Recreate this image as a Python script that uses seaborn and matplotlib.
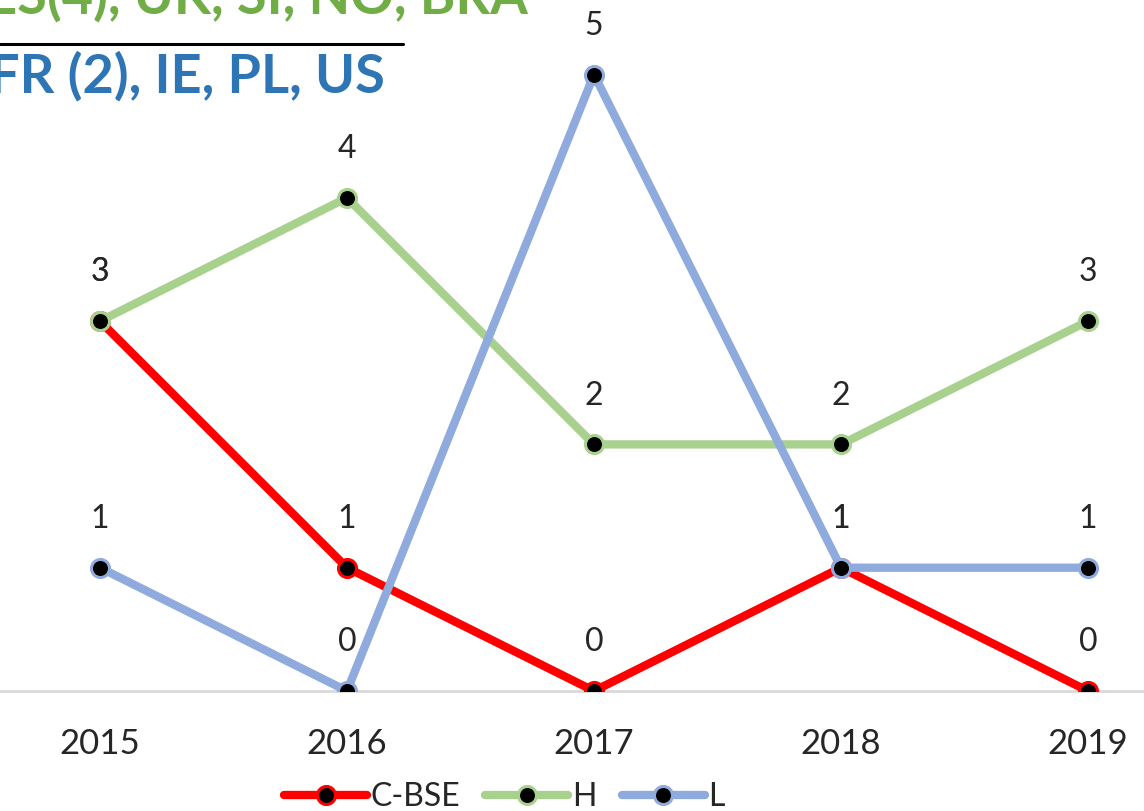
import matplotlib
matplotlib.use("Agg")
from matplotlib import pyplot as plt
import seaborn as sns
import pandas as pd

# data
years = ['2015', '2016', '2017', '2018', '2019']
c_bse = [3, 1, 0, 1, 0]
h_vals = [3, 4, 2, 2, 3]
l_vals = [1, 0, 5, 1, 1]
series_names = ['C-BSE', 'H', 'L']
series_colors = ['#FF0000', '#A9D18E', '#8FAADC']
header_top = 'ES(4), UK, SI, NO, BRA'
header_bottom = 'FR (2), IE, PL, US'

sns.set_style("white")
plt.rcParams['font.family'] = ['Lato', 'DejaVu Sans']

df = pd.DataFrame({'pos': range(len(years)), 'C-BSE': c_bse, 'H': h_vals, 'L': l_vals})

fig = plt.figure(figsize=(11.44, 8.11), dpi=100)
ax = fig.add_axes([0, 120 / 811, 1, 691 / 811])

for name, color in zip(series_names, series_colors):
    sns.lineplot(data=df, x='pos', y=name, ax=ax, color=color, linewidth=6,
                 marker='o', markersize=13, markerfacecolor='black',
                 markeredgecolor=color, markeredgewidth=2.2, label=name)
    for xi, yi in zip(df['pos'], df[name]):
        ax.annotate(str(yi), (xi, yi), xytext=(0, 35), textcoords='offset points',
                    ha='center', va='center', fontsize=23, color='#262626')

ax.set_xlim(-100 / 247, 1044 / 247)
ax.set_ylim(0, 691 / 123.3)
ax.set_xticks(range(len(years)))
ax.set_xticklabels(years, fontsize=25, color='#262626')
ax.tick_params(axis='x', length=0, pad=27)
ax.set_yticks([])
ax.set_xlabel('')
ax.set_ylabel('')
for side in ['top', 'left', 'right']:
    ax.spines[side].set_visible(False)
ax.spines['bottom'].set_color('#d9d9d9')
ax.spines['bottom'].set_linewidth(2)
ax.spines['bottom'].set_zorder(0)

ax.get_legend().remove()
handles, labels = ax.get_legend_handles_labels()
fig.legend(handles, labels, loc='center left', bbox_to_anchor=(284 / 1144, 1 - 797 / 811),
           ncol=3, frameon=False, fontsize=23, handlelength=2.6, handletextpad=0.1,
           columnspacing=0.8, labelcolor='#262626', borderpad=0, borderaxespad=0)

# header text cut off at the top left
fig.text(-0.012, 1 - 14 / 811, header_top, fontsize=39, fontweight='bold',
         color='#70AD47', ha='left', va='baseline')
fig.add_artist(plt.Line2D([0, 403 / 1144], [1 - 44 / 811, 1 - 44 / 811],
                          color='black', linewidth=2.2, transform=fig.transFigure))
fig.text(-0.010, 1 - 93 / 811, header_bottom, fontsize=39, fontweight='bold',
         color='#2E75B6', ha='left', va='baseline')

plt.savefig('out.png', dpi=100)
